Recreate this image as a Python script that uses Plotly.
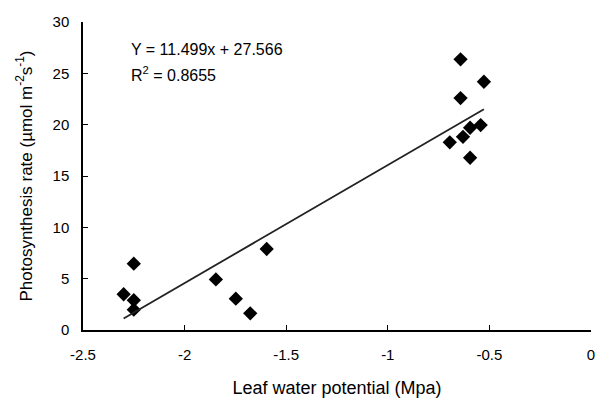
import plotly.graph_objects as go

# Data
leaf_water_potential = [-2.30, -2.25, -2.25, -2.25, -1.846, -1.748, -1.677, -1.596,
                        -0.642, -0.527, -0.642, -0.595, -0.543, -0.630, -0.695, -0.595]
photosynthesis_rate = [3.48, 6.46, 2.90, 1.98, 4.93, 3.05, 1.62, 7.89,
                       26.36, 24.18, 22.59, 19.70, 19.96, 18.82, 18.28, 16.78]
slope = 11.499
intercept = 27.566
r_squared = 0.8655
x_ticks = [-2.5, -2, -1.5, -1, -0.5, 0]
y_ticks = [0, 5, 10, 15, 20, 25, 30]

x_fit = [min(leaf_water_potential), max(leaf_water_potential)]
y_fit = [slope * x + intercept for x in x_fit]

font_family = "Liberation Sans, Arial, sans-serif"

fig = go.Figure()
fig.add_trace(go.Scatter(
    x=leaf_water_potential, y=photosynthesis_rate, mode="markers",
    marker=dict(symbol="diamond", size=11, color="black"),
    showlegend=False,
))
fig.add_trace(go.Scatter(
    x=x_fit, y=y_fit, mode="lines",
    line=dict(color="#222222", width=1.8),
    showlegend=False,
))

fig.add_annotation(
    x=0.090, y=0.91, xref="paper", yref="paper", xanchor="left", yanchor="middle",
    text=f"Y = {slope}x + {intercept}", showarrow=False,
    font=dict(family=font_family, size=16, color="black"),
)
fig.add_annotation(
    x=0.090, y=0.83, xref="paper", yref="paper", xanchor="left", yanchor="middle",
    text=f"R<sup>2</sup> = {r_squared}", showarrow=False,
    font=dict(family=font_family, size=16, color="black"),
)

axis_common = dict(
    showgrid=False, zeroline=False, showline=True, linecolor="black", linewidth=1.5,
    ticks="inside", ticklen=5, tickwidth=1.2, tickcolor="black",
    tickfont=dict(family=font_family, size=15, color="black"),
)

fig.update_xaxes(
    range=[-2.5, 0], tickvals=x_ticks, ticktext=[f"{v:g}" for v in x_ticks],
    ticklabelstandoff=10,
    title=dict(text="Leaf water potential (Mpa)", font=dict(family=font_family, size=18, color="black"), standoff=20),
    **axis_common,
)
fig.update_yaxes(
    range=[0, 30], tickvals=y_ticks, ticklabelstandoff=9,
    title=dict(text="Photosynthesis rate (µmol m<sup>-2</sup>s<sup>-1</sup>)",
               font=dict(family=font_family, size=17, color="black"), standoff=16),
    **axis_common,
)

fig.update_layout(
    width=600, height=400,
    margin=dict(l=83, r=5, t=22, b=70),
    plot_bgcolor="white", paper_bgcolor="white",
    font=dict(family=font_family, color="black"),
)

fig.write_html("out.html")
